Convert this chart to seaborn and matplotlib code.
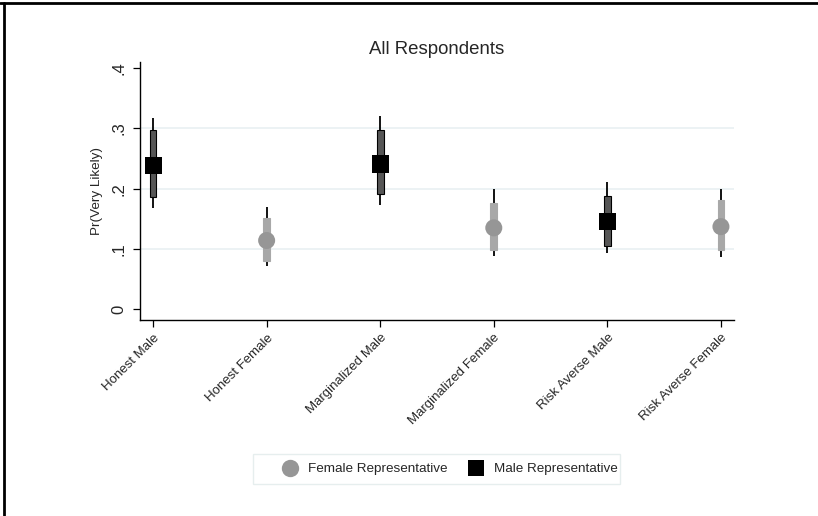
import numpy as np
import pandas as pd
import matplotlib
matplotlib.use("Agg")
import matplotlib.pyplot as plt
from matplotlib.lines import Line2D
from matplotlib.patches import Rectangle
import seaborn as sns

sns.set_theme(style="white")
plt.rcParams["font.family"] = ["Liberation Sans", "DejaVu Sans"]

# Predicted probabilities with 90% (thick) and 95% (thin) intervals
categories = ["Honest Male", "Honest Female", "Marginalized Male",
              "Marginalized Female", "Risk Averse Male", "Risk Averse Female"]
rep_gender = ["Male Representative", "Female Representative",
              "Male Representative", "Female Representative",
              "Male Representative", "Female Representative"]
estimate = [0.239, 0.114, 0.241, 0.135, 0.145, 0.137]
ci90_lo = [0.187, 0.080, 0.191, 0.099, 0.105, 0.098]
ci90_hi = [0.297, 0.151, 0.298, 0.176, 0.188, 0.181]
ci95_lo = [0.168, 0.071, 0.173, 0.089, 0.093, 0.086]
ci95_hi = [0.317, 0.169, 0.320, 0.199, 0.211, 0.200]
y_ticks = [0, 0.1, 0.2, 0.3, 0.4]
y_tick_labels = ["0", ".1", ".2", ".3", ".4"]

df = pd.DataFrame({
    "category": categories, "group": rep_gender, "est": estimate,
    "lo90": ci90_lo, "hi90": ci90_hi, "lo95": ci95_lo, "hi95": ci95_hi,
})
df["pos"] = np.arange(len(df))

marker_color = {"Female Representative": "#969696", "Male Representative": "#000000"}
bar_color = {"Female Representative": "#a8a8a8", "Male Representative": "#565656"}
bar_edge = {"Female Representative": "#a8a8a8", "Male Representative": "#000000"}
markers = {"Female Representative": "o", "Male Representative": "s"}

fig = plt.figure(figsize=(8.18, 5.16), dpi=100)
ax = fig.add_axes([140 / 818, 1 - 320 / 516, 594 / 818, (320 - 62.2) / 516])

# thin 95% whiskers
ax.vlines(df["pos"], df["lo95"], df["hi95"], color="black", lw=1.3, zorder=2)
# thick 90% bars
for g, sub in df.groupby("group"):
    ax.bar(sub["pos"], sub["hi90"] - sub["lo90"], bottom=sub["lo90"], width=0.058,
           color=bar_color[g], edgecolor=bar_edge[g], linewidth=0.8, zorder=3)

sns.scatterplot(data=df, x="pos", y="est", hue="group", style="group",
                palette=marker_color, markers=markers, s=150, linewidth=0,
                legend=False, ax=ax, zorder=4)

ax.set_xlim(-0.115, 5.115)
ax.set_ylim(-0.018, 0.41)
ax.set_xticks(df["pos"])
ax.set_xticklabels(categories, rotation=45, ha="right", va="top",
                   rotation_mode="anchor", fontsize=9.5)
ax.set_yticks(y_ticks)
ax.set_yticklabels(y_tick_labels, rotation=90, va="center", fontsize=12)
ax.set_xlabel("")
ax.set_ylabel("Pr(Very Likely)", fontsize=9.7, labelpad=6)
ax.tick_params(axis="both", direction="out", length=5, width=0.9, color="black",
               bottom=True, left=True)
ax.tick_params(axis="x", pad=3.5)
ax.tick_params(axis="y", pad=5)
for yv in [0.1, 0.2, 0.3]:
    ax.axhline(yv, color="#e9f0f2", lw=1.2, zorder=0)
for side in ["top", "right"]:
    ax.spines[side].set_visible(False)
for side in ["left", "bottom"]:
    ax.spines[side].set_color("black")
    ax.spines[side].set_linewidth(1.0)

ax.set_title("All Respondents", fontsize=13.4, pad=6)

handles = [
    Line2D([], [], marker="o", ls="none", markersize=12.5,
           markerfacecolor=marker_color["Female Representative"], markeredgewidth=0),
    Line2D([], [], marker="s", ls="none", markersize=12,
           markerfacecolor=marker_color["Male Representative"], markeredgewidth=0),
]
leg = fig.legend(handles, ["Female Representative", "Male Representative"],
                 loc="center", bbox_to_anchor=(450 / 818, 1 - 469 / 516), ncol=2,
                 fontsize=9.7, frameon=False, borderpad=0.0,
                 handletextpad=0.74, columnspacing=1.55, handlelength=1.2)
# legend box spans wider on the left than its contents
fig.add_artist(Rectangle((253 / 818, 1 - 484 / 516), 367 / 818, 30 / 516,
                         transform=fig.transFigure, fill=False,
                         edgecolor="#e6eeee", lw=1.0))

# outer border lines along top and left
fig.add_artist(Line2D([0, 1], [1 - 3 / 516, 1 - 3 / 516], transform=fig.transFigure,
                      color="black", lw=2))
fig.add_artist(Line2D([4 / 818, 4 / 818], [0, 1 - 3 / 516], transform=fig.transFigure,
                      color="black", lw=2))

fig.savefig("out.png", dpi=100, facecolor="white")
